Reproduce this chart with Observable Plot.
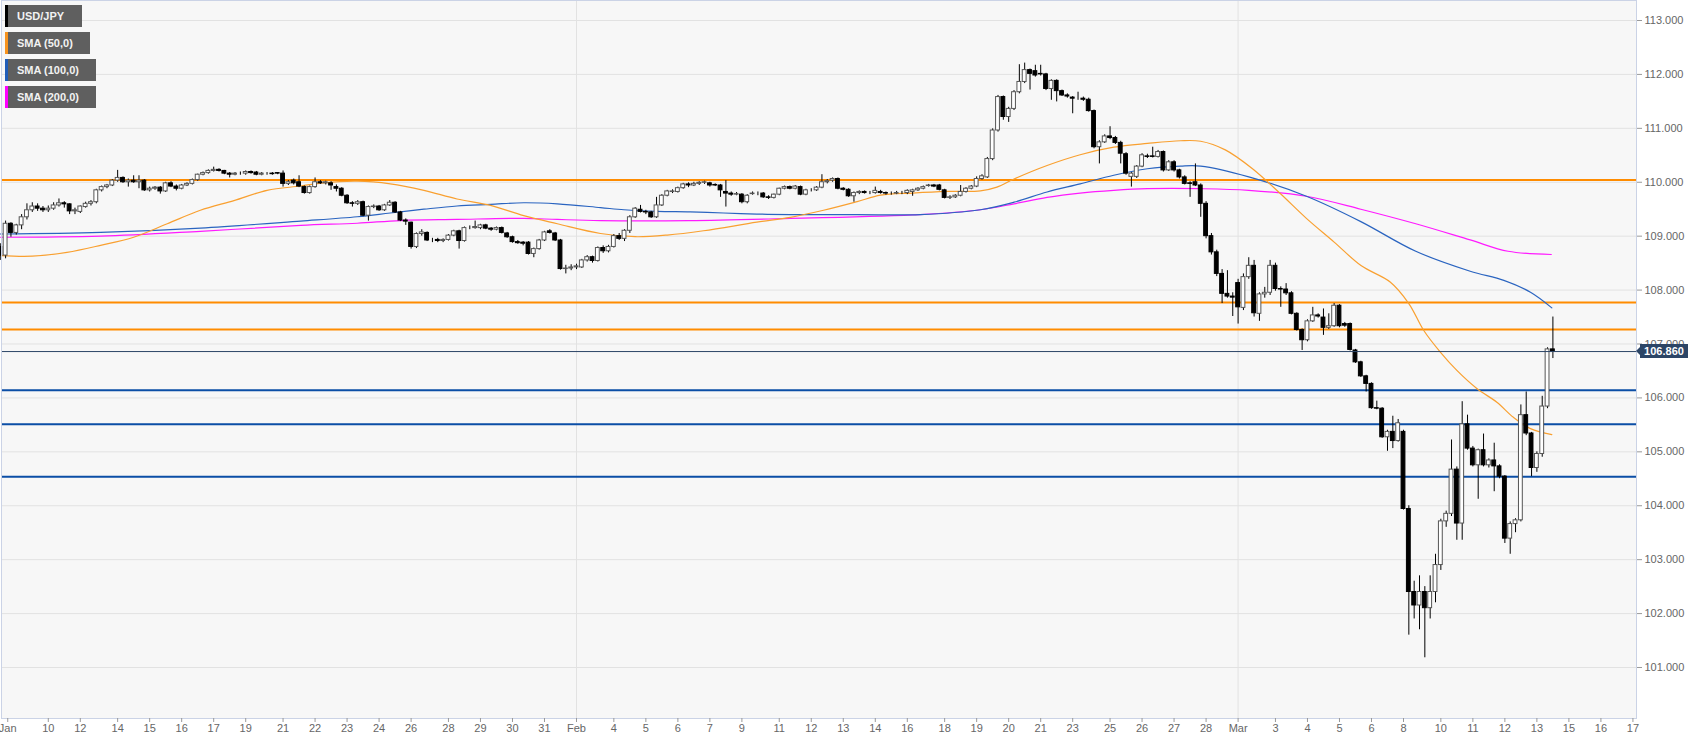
<!DOCTYPE html>
<html><head><meta charset="utf-8">
<script src="https://cdn.jsdelivr.net/npm/d3@7"></script>
<script src="https://cdn.jsdelivr.net/npm/@observablehq/plot@0.6"></script>
<style>
body{margin:0;background:#fff;}
#wrap{position:relative;width:1707px;height:744px;overflow:hidden;font-family:Arial,"Liberation Sans",sans-serif;}
.leg{position:absolute;left:5px;height:22px;background:#5f5f5f;color:#f2f2f2;font-weight:bold;font-size:11px;line-height:22px;padding-left:12px;box-sizing:border-box;}
.leg i{position:absolute;left:0;top:0;width:3px;height:22px;}
#tag{position:absolute;left:1640px;width:48px;height:14px;background:#2c4566;color:#fff;font-weight:bold;font-size:11px;line-height:14px;text-align:center;}
#tag:before{content:"";position:absolute;left:-4px;top:3px;border-top:4px solid transparent;border-bottom:4px solid transparent;border-right:4px solid #2c4566;}
</style></head><body><div id="wrap"></div>
<script>
// USD/JPY 4H candles [open, high, low, close], in order; first candle index:
const firstIndex = -9;
const wkJan08 = [
[108.80,108.86,108.55,108.64],[108.64,109.28,108.58,109.23],[109.23,109.25,108.98,109.06],[109.06,109.22,109.02,109.20],
[109.20,109.40,109.12,109.35],[109.35,109.60,109.30,109.48],[109.48,109.62,109.44,109.55],[109.55,109.60,109.46,109.51],
[109.51,109.55,109.44,109.48],[109.48,109.56,109.44,109.51],[109.51,109.62,109.48,109.57],[109.57,109.69,109.54,109.61],
[109.61,109.64,109.52,109.59],[109.59,109.60,109.40,109.46],[109.46,109.52,109.40,109.48]];
const wkJan12 = [
[109.45,109.56,109.42,109.55],[109.54,109.63,109.52,109.60],[109.60,109.66,109.56,109.63],[109.63,109.87,109.60,109.85],
[109.85,109.93,109.82,109.91],[109.91,109.96,109.88,109.94],[109.94,110.05,109.92,110.03],[110.03,110.22,110.00,110.08],
[110.08,110.10,109.98,110.00],[110.00,110.06,109.91,110.03],[110.03,110.12,109.98,110.00],[110.00,110.12,109.88,110.03],
[110.03,110.05,109.83,109.85],[109.85,109.91,109.82,109.88],[109.88,109.92,109.85,109.90],[109.90,109.92,109.78,109.83],
[109.83,110.00,109.81,109.98],[109.98,110.01,109.90,109.92],[109.92,109.95,109.84,109.88],[109.88,109.96,109.86,109.94],
[109.94,109.99,109.92,109.97],[109.97,110.06,109.95,110.04],[110.04,110.15,110.02,110.14],[110.14,110.19,110.12,110.17],
[110.17,110.23,110.15,110.21],[110.21,110.28,110.19,110.23],[110.23,110.25,110.19,110.21],[110.21,110.22,110.14,110.16],
[110.16,110.18,110.08,110.14],[110.14,110.18,110.12,110.16],[110.16,110.19,110.13,110.16]];
const wkJan19 = [
[110.16,110.21,110.13,110.19],[110.19,110.21,110.15,110.17],[110.18,110.20,110.12,110.14],[110.14,110.18,110.12,110.16],
[110.16,110.18,110.13,110.16],[110.16,110.18,110.13,110.15],[110.17,110.18,110.14,110.16],[110.16,110.21,109.91,109.97],
[109.97,110.03,109.94,110.00],[110.03,110.06,109.95,109.98],[110.00,110.12,109.90,109.92],[109.91,109.93,109.78,109.80],
[109.80,109.93,109.78,109.91],[109.91,110.08,109.89,110.00],[110.00,110.03,109.96,109.98],[109.98,110.02,109.95,110.00],
[109.98,110.01,109.85,109.94],[109.91,109.95,109.82,109.88],[109.88,109.90,109.73,109.75],[109.75,109.77,109.59,109.61],
[109.61,109.64,109.54,109.60],[109.60,109.66,109.57,109.63],[109.63,109.65,109.36,109.38],[109.38,109.56,109.28,109.54],
[109.54,109.58,109.51,109.55],[109.55,109.57,109.46,109.48],[109.48,109.59,109.46,109.57],[109.57,109.66,109.55,109.62],
[109.62,109.64,109.42,109.44],[109.44,109.46,109.27,109.29],[109.29,109.32,109.20,109.27]];
const wkJan26 = [
[109.25,109.26,108.76,108.80],[108.80,109.06,108.77,109.04],[109.04,109.12,109.00,109.07],[109.06,109.08,108.90,108.92],
[108.92,108.96,108.88,108.92],[108.93,108.96,108.88,108.91],[108.91,108.95,108.88,108.93],[108.93,109.03,108.91,109.01],
[109.01,109.11,108.99,109.09],[109.09,109.11,108.76,108.91],[108.91,109.17,108.89,109.15],[109.15,109.19,109.12,109.15],
[109.15,109.28,109.13,109.17],[109.15,109.22,109.12,109.20],[109.20,109.22,109.12,109.14],[109.14,109.16,109.09,109.12],
[109.12,109.17,109.10,109.15],[109.15,109.17,109.04,109.06],[109.05,109.07,108.96,108.98],[108.98,109.00,108.87,108.89],
[108.89,108.92,108.85,108.87],[108.88,108.90,108.82,108.86],[108.88,108.90,108.65,108.67],[108.67,108.78,108.60,108.76],
[108.76,108.94,108.74,108.92],[108.92,109.09,108.90,109.07],[109.09,109.12,109.04,109.06],[109.05,109.07,108.90,108.92],
[108.92,108.94,108.37,108.39],[108.39,108.46,108.30,108.40],[108.40,108.47,108.36,108.42]];
const wkFeb02 = [
[108.42,108.48,108.38,108.44],[108.42,108.57,108.40,108.55],[108.55,108.64,108.52,108.61],[108.61,108.63,108.50,108.54],
[108.54,108.80,108.52,108.78],[108.78,108.82,108.68,108.72],[108.72,108.83,108.69,108.80],[108.80,109.03,108.78,109.00],
[109.00,109.05,108.92,108.95],[108.95,109.12,108.90,109.10],[109.10,109.38,109.05,109.35],[109.35,109.53,109.33,109.51],
[109.49,109.57,109.43,109.45],[109.45,109.48,109.40,109.44],[109.44,109.46,109.33,109.35],[109.35,109.72,109.33,109.57],
[109.57,109.77,109.55,109.75],[109.75,109.85,109.73,109.83],[109.82,109.86,109.79,109.83],[109.82,109.91,109.80,109.89],
[109.89,109.98,109.87,109.96],[109.96,109.99,109.90,109.94],[109.94,110.00,109.92,109.97],[109.97,110.01,109.94,109.99],
[109.99,110.02,109.96,110.00],[109.98,110.00,109.91,109.94],[109.95,109.97,109.92,109.94],[109.94,109.96,109.72,109.85],
[109.82,110.03,109.54,109.79],[109.79,109.82,109.74,109.77],[109.77,109.81,109.75,109.78]];
const wkFeb09 = [
[109.77,109.79,109.60,109.63],[109.63,109.77,109.60,109.75],[109.78,109.82,109.76,109.79],[109.79,109.82,109.75,109.79],
[109.79,109.81,109.70,109.72],[109.72,109.75,109.68,109.71],[109.71,109.78,109.69,109.77],[109.77,109.89,109.75,109.88],
[109.88,109.93,109.86,109.91],[109.91,109.93,109.86,109.88],[109.88,109.94,109.86,109.92],[109.91,109.93,109.75,109.77],
[109.77,109.87,109.75,109.85],[109.85,109.88,109.82,109.85],[109.85,109.92,109.83,109.90],[109.90,110.14,109.88,110.00],
[110.00,110.05,109.97,110.02],[110.03,110.08,110.00,110.06],[110.06,110.08,109.86,109.88],[109.88,109.90,109.84,109.86],
[109.86,109.88,109.72,109.74],[109.74,109.82,109.63,109.80],[109.80,109.84,109.77,109.82],[109.82,109.84,109.78,109.80],
[109.80,109.83,109.77,109.80],[109.80,109.91,109.78,109.84],[109.82,109.85,109.78,109.80],[109.80,109.82,109.76,109.79],
[109.79,109.82,109.76,109.79],[109.79,109.83,109.77,109.80],[109.80,109.83,109.77,109.80]];
const wkFeb16 = [
[109.80,109.86,109.77,109.84],[109.82,109.87,109.74,109.85],[109.85,109.90,109.83,109.88],[109.88,109.93,109.86,109.91],
[109.93,109.96,109.91,109.94],[109.94,109.96,109.90,109.92],[109.94,109.96,109.84,109.86],[109.85,109.87,109.69,109.71],
[109.71,109.75,109.68,109.72],[109.72,109.77,109.70,109.75],[109.75,109.94,109.73,109.82],[109.82,109.90,109.80,109.88],
[109.88,109.94,109.86,109.92],[109.92,110.10,109.90,110.06],[110.06,110.14,110.04,110.11],[110.09,110.46,110.07,110.43],
[110.43,110.99,110.40,110.96],[110.96,111.61,110.93,111.58],[111.58,111.60,111.15,111.21],[111.21,111.39,111.11,111.36],
[111.36,111.70,111.33,111.67],[111.67,112.18,111.64,111.86],[111.86,112.21,111.83,112.08],[112.08,112.10,111.71,112.01],
[112.06,112.17,111.95,111.98],[112.01,112.17,111.97,112.00],[112.00,112.02,111.70,111.73],[111.73,111.90,111.52,111.88],
[111.88,111.90,111.49,111.69],[111.69,111.71,111.59,111.61],[111.61,111.64,111.56,111.59]];
const wkFeb23 = [
[111.57,111.59,111.27,111.55],[111.55,111.67,111.52,111.55],[111.55,111.58,111.50,111.53],[111.53,111.56,111.30,111.32],
[111.32,111.34,110.62,110.65],[110.65,110.77,110.34,110.74],[110.74,110.88,110.72,110.85],[110.85,111.03,110.79,110.82],
[110.82,110.85,110.70,110.73],[110.73,110.76,110.34,110.53],[110.52,110.55,110.13,110.16],[110.10,110.18,109.91,110.16],
[110.10,110.31,110.07,110.29],[110.29,110.53,110.27,110.50],[110.48,110.52,110.44,110.47],[110.48,110.65,110.45,110.47],
[110.47,110.59,110.45,110.56],[110.56,110.58,110.19,110.22],[110.22,110.40,110.20,110.37],[110.37,110.40,110.19,110.22],
[110.22,110.24,110.06,110.09],[110.09,110.12,109.95,109.97],[109.98,110.01,109.72,109.97],[110.00,110.34,109.92,109.94],
[109.94,109.97,109.35,109.60],[109.60,109.64,108.95,109.00],[109.00,109.05,108.65,108.70],[108.70,108.74,108.25,108.30],
[108.30,108.38,107.75,107.93],[107.93,108.36,107.85,107.88],[107.88,107.95,107.51,107.86]];
const wkMar01 = [
[108.13,108.20,107.37,107.68],[107.67,108.30,107.62,108.24],[108.24,108.60,108.20,108.45],[108.45,108.55,107.50,107.57],
[107.56,107.95,107.42,107.92],[107.92,108.05,107.85,107.95],[107.95,108.55,107.90,108.45],[108.45,108.50,107.98,108.02],
[108.02,108.06,107.68,108.01],[108.01,108.12,107.90,107.94],[107.94,107.97,107.54,107.56],[107.56,107.58,107.24,107.26],
[107.26,107.28,106.88,107.07],[107.07,107.45,107.04,107.42],[107.42,107.68,107.40,107.53],[107.53,107.56,107.48,107.51],
[107.49,107.65,107.16,107.30],[107.30,107.56,107.27,107.33],[107.33,107.75,107.31,107.71],[107.71,107.73,107.30,107.33],
[107.37,107.40,107.31,107.34],[107.37,107.39,106.87,106.89],[106.88,106.90,106.64,106.66],[106.66,106.68,106.38,106.40],
[106.40,106.42,106.11,106.26],[106.26,106.28,105.79,105.81],[105.81,105.94,105.78,105.80],[105.80,105.82,105.25,105.27],
[105.27,105.40,105.01,105.37],[105.37,105.66,105.06,105.20],[105.20,105.60,105.18,105.53]];
const wkMar08 = [
[105.37,105.40,103.92,103.94],[103.94,104.00,101.60,102.40],[102.40,102.60,101.90,102.15],[102.15,102.70,101.70,102.40],
[102.40,102.50,101.18,102.10],[102.10,102.70,101.90,102.40],[102.40,103.10,102.20,102.90],[102.90,103.75,102.80,103.71],
[103.71,103.90,103.60,103.85],[103.85,105.22,103.80,104.67],[104.67,104.72,103.36,103.67],[103.67,105.93,103.36,105.51],
[105.51,105.68,105.03,105.06],[105.06,105.10,104.72,104.75],[104.75,105.05,104.12,105.03],[105.03,105.33,104.72,104.75],
[104.75,104.87,104.70,104.84],[104.84,105.16,104.26,104.73],[104.73,104.76,104.50,104.54],[104.54,104.56,103.30,103.39],
[103.39,103.70,103.10,103.66],[103.66,103.76,103.50,103.73],[103.73,105.87,103.70,105.68],[105.68,106.11,105.30,105.34],
[105.34,105.36,104.54,104.70],[104.70,105.00,104.62,104.96],[104.96,106.03,104.90,105.84],[105.84,106.93,105.80,106.90],
[106.90,107.50,106.73,106.86]];

// moving averages: [candle index, value]
const sma50 = [[-9,108.64],[-3,108.63],[3.5,108.70],[9.8,108.83],[16,108.98],[22.3,109.23],[28.5,109.48],[34.8,109.66],[41,109.85],[47.3,109.93],[51.6,109.99],[57.9,110.02],[64.1,109.97],[70.4,109.85],[76.6,109.69],[82.9,109.57],[89.1,109.38],[95.4,109.23],[103.5,109.05],[110,108.99],[116,109.02],[122.8,109.10],[132.8,109.26],[139.1,109.35],[145.3,109.48],[151.6,109.64],[156,109.76],[162,109.80],[168.5,109.83],[174.7,109.84],[177.8,109.91],[181,110.06],[187.2,110.31],[193.4,110.51],[199.7,110.65],[206,110.72],[212.2,110.77],[216,110.76],[220.6,110.60],[225.7,110.25],[230.8,109.80],[235.8,109.33],[241,108.89],[246.1,108.45],[251.5,108.15],[255,107.75],[257.8,107.25],[260.9,106.85],[264,106.51],[267.8,106.17],[271.5,105.92],[274.6,105.64],[277.8,105.43],[281.8,105.32]];
const sma100 = [[-9,109.04],[9.8,109.07],[28.5,109.15],[47.3,109.28],[57.9,109.36],[64.1,109.43],[70.4,109.50],[76.6,109.56],[82.9,109.59],[89.1,109.62],[95.4,109.60],[103.5,109.53],[107.9,109.49],[114.1,109.46],[120.3,109.45],[126.6,109.43],[132.8,109.41],[139.1,109.40],[151.6,109.40],[163.4,109.40],[174.7,109.49],[181,109.63],[187.2,109.82],[193.4,109.97],[199.7,110.13],[206,110.25],[212.2,110.30],[216,110.30],[225,110.10],[235.8,109.74],[246,109.27],[256.3,108.72],[266.5,108.35],[272.8,108.18],[277.8,107.96],[281.8,107.67]];
const sma200 = [[-9,108.98],[9.8,109.00],[28.5,109.09],[47.3,109.20],[57.9,109.24],[66,109.29],[76.6,109.31],[89.1,109.33],[95.4,109.31],[103.5,109.29],[120,109.29],[139,109.33],[163.4,109.40],[174.7,109.49],[181,109.60],[187.2,109.72],[193.4,109.80],[199.7,109.85],[206,109.88],[216,109.88],[225,109.85],[235.8,109.74],[246,109.50],[256.3,109.23],[266.5,108.93],[273.6,108.72],[281.7,108.66]];

const resistanceLevels = [110.04, 107.77, 107.27];
const supportLevels = [106.14, 105.51, 104.54];
const lastPrice = 106.86;
const priceTicks = [101,102,103,104,105,106,107,108,109,110,111,112,113];
const monthStarts = [99, 223];
const xTickIdx = [-7.6,0,6,13,19,25,31,37,44,50,56,62,68,75,81,87,93,99,106,112,118,124,130,137,143,149,155,161,168,174,180,186,192,199,205,211,217,223,230,236,242,248,254,261,267,273,279,285,291,297];
const xTickLabels = ["Jan","10","12","14","15","16","17","19","21","22","23","24","26","28","29","30","31","Feb","4","5","6","7","9","11","12","13","14","16","18","19","20","21","23","25","26","27","28","Mar","3","4","5","6","8","10","11","12","13","15","16","17"];
const legendItems = [["USD/JPY","#000"],["SMA (50,0)","#f7931e"],["SMA (100,0)","#1f5cb8"],["SMA (200,0)","#ff00ff"]];

const candles = [];
let k = firstIndex;
for (const wk of [wkJan08,wkJan12,wkJan19,wkJan26,wkFeb02,wkFeb09,wkFeb16,wkFeb23,wkMar01,wkMar08])
  for (const [o,h,l,c] of wk) candles.push({i:k++, o, h, l, c, up: c >= o});
const toPts = a => a.map(([i,v]) => ({i, v}));
const labelOf = new Map(xTickIdx.map((d,j) => [d, xTickLabels[j]]));

const chart = Plot.plot({
  width: 1707, height: 744,
  marginLeft: 1, marginRight: 71, marginTop: 0, marginBottom: 26,
  x: {domain: [-8.77, 297.67]},
  y: {domain: [100.054, 113.371]},
  style: {fontFamily: "Arial, 'Liberation Sans', sans-serif", fontSize: "11px", color: "#666", background: "#fff", overflow: "visible"},
  marks: [
    Plot.frame({fill: "#f7f7f7"}),
    Plot.gridY(priceTicks, {stroke: "#e2e2e2", strokeOpacity: 1}),
    Plot.ruleX(monthStarts, {stroke: "#e2e2e2", strokeOpacity: 1}),
    Plot.ruleY(resistanceLevels, {stroke: "#ff8c00", strokeWidth: 2}),
    Plot.ruleY(supportLevels, {stroke: "#0b4ea6", strokeWidth: 2}),
    Plot.line(toPts(sma200), {x: "i", y: "v", stroke: "#ff1aff", strokeWidth: 1.2, curve: "catmull-rom"}),
    Plot.line(toPts(sma100), {x: "i", y: "v", stroke: "#2a64c0", strokeWidth: 1.2, curve: "catmull-rom"}),
    Plot.line(toPts(sma50), {x: "i", y: "v", stroke: "#f9a030", strokeWidth: 1.2, curve: "catmull-rom"}),
    Plot.ruleX(candles, {x: "i", y1: "l", y2: "h", stroke: "#000", strokeWidth: 1}),
    Plot.rect(candles, {x1: d => d.i - 0.36, x2: d => d.i + 0.36, y1: d => Math.min(d.o, d.c), y2: d => Math.max(d.o, d.c),
      fill: d => d.up ? "#ffffff" : "#000000", stroke: d => d.up ? "#555555" : "#000000", strokeWidth: 1}),
    Plot.ruleY([lastPrice], {stroke: "#2c4566", strokeWidth: 1}),
    Plot.frame({stroke: "#cbd3e6"}),
    Plot.axisY(priceTicks, {anchor: "right", tickFormat: d => d.toFixed(3), tickSize: 5, tickPadding: 3, stroke: "#999", fill: "#666", label: null}),
    Plot.axisX(xTickIdx, {tickFormat: d => labelOf.get(d), tickSize: 4, tickPadding: 2, stroke: "#999", fill: "#666", label: null})
  ]
});
const wrap = document.getElementById("wrap");
wrap.appendChild(chart);
legendItems.forEach(([name, col], j) => {
  const d = document.createElement("div");
  d.className = "leg";
  d.style.top = (5 + 27 * j) + "px";
  d.style.width = (j === 0 ? 77 : j === 1 ? 85 : 91) + "px";
  d.innerHTML = `<i style="background:${col}"></i>${name}`;
  wrap.appendChild(d);
});
const tag = document.createElement("div");
tag.id = "tag";
tag.textContent = lastPrice.toFixed(3);
tag.style.top = (chart.scale("y").apply(lastPrice) - 7) + "px";
wrap.appendChild(tag);
</script></body></html>
